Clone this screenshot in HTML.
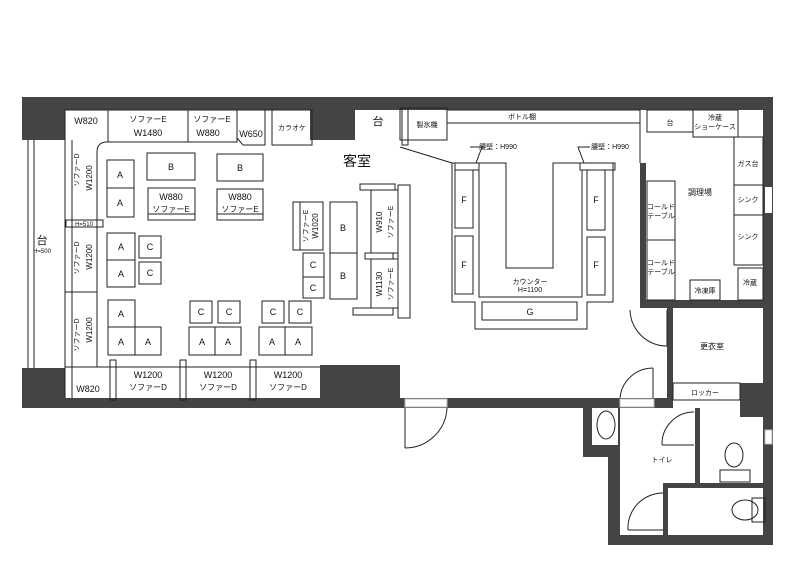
<!DOCTYPE html>
<html><head><meta charset="utf-8"><style>
html,body{margin:0;padding:0;background:#fff;}
svg{display:block;}
text{font-family:"Liberation Sans","Noto Sans CJK JP",sans-serif;fill:#111;}
</style></head><body>
<svg width="800" height="565" viewBox="0 0 800 565" xmlns="http://www.w3.org/2000/svg">
<g fill="#444" stroke="none">
<rect x="22" y="97" width="751" height="13"/>
<rect x="22" y="97" width="43" height="43"/>
<rect x="22" y="368" width="43" height="40"/>
<rect x="310" y="97" width="45" height="43"/>
<rect x="22" y="398" width="651" height="10"/>
<rect x="320" y="365" width="80" height="35"/>
<rect x="738" y="97" width="35" height="13"/>
<rect x="763" y="97" width="10" height="448"/>
<rect x="640" y="163" width="6" height="140"/>
<rect x="640" y="300" width="133" height="8"/>
<rect x="667" y="308" width="6" height="92"/>
<rect x="740" y="383" width="33" height="34"/>
<rect x="583" y="408" width="37" height="49"/>
<rect x="608" y="455" width="12" height="90"/>
<rect x="608" y="535" width="165" height="10"/>
<rect x="695" y="408" width="5" height="78"/>
<rect x="663" y="483" width="102" height="5"/>
<rect x="663" y="483" width="5" height="52"/>
</g>
<g fill="#fff" stroke="#bbb"><rect x="405" y="399" width="42" height="8"/><rect x="620" y="399" width="34" height="8"/><rect x="765" y="187" width="7" height="26" stroke="none"/><rect x="765" y="430" width="7" height="14"/></g>
<rect x="592" y="408" width="26" height="37" fill="#fff"/>
<g fill="none" stroke="#222" stroke-width="1">
<line x1="65" y1="110" x2="310" y2="110"/>
<line x1="65" y1="110" x2="65" y2="398"/>
<path d="M237 142 H107 Q97 142 97 152 V367 H320"/>
<line x1="28" y1="140" x2="28" y2="368"/><line x1="34" y1="140" x2="34" y2="368"/>
<line x1="72" y1="140" x2="72" y2="398"/>
<line x1="65" y1="292" x2="97" y2="292"/>
<rect x="108" y="110" width="80" height="32"/><rect x="188" y="110" width="49" height="32"/>
<path d="M237 110 H265 V145 H243 L237 138"/>
<rect x="272" y="110" width="40" height="35"/>
<rect x="66" y="220" width="37" height="7"/>
<line x1="65" y1="367" x2="320" y2="367"/>
<rect x="110" y="360" width="6" height="40"/><rect x="180" y="360" width="6" height="40"/><rect x="250" y="360" width="6" height="40"/>
<rect x="107" y="160" width="27" height="28"/><rect x="107" y="188" width="27" height="29"/>
<rect x="147" y="153" width="48" height="27"/><rect x="217" y="154" width="46" height="27"/>
<rect x="148" y="188" width="47" height="32"/><line x1="148" y1="214" x2="195" y2="214"/>
<rect x="217" y="189" width="46" height="31"/><line x1="217" y1="214" x2="263" y2="214"/>
<rect x="107" y="233" width="28" height="27"/><rect x="107" y="260" width="28" height="27"/>
<rect x="139" y="236" width="22" height="22"/><rect x="139" y="262" width="22" height="22"/>
<rect x="108" y="300" width="27" height="27"/><rect x="108" y="327" width="27" height="28"/><rect x="135" y="327" width="26" height="28"/>
<rect x="190" y="301" width="22" height="22"/><rect x="218" y="301" width="22" height="22"/>
<rect x="189" y="327" width="26" height="28"/><rect x="215" y="327" width="26" height="28"/>
<rect x="262" y="301" width="22" height="22"/><rect x="289" y="301" width="22" height="22"/>
<rect x="259" y="327" width="26" height="28"/><rect x="285" y="327" width="27" height="28"/>
<rect x="293" y="202" width="30" height="48"/><line x1="300" y1="202" x2="300" y2="250"/>
<rect x="303" y="253" width="21" height="24"/><rect x="303" y="277" width="21" height="21"/>
<rect x="330" y="202" width="27" height="51"/><rect x="330" y="253" width="27" height="46"/>
<rect x="360" y="184" width="35" height="6"/><rect x="371" y="190" width="27" height="63"/><rect x="365" y="253" width="28" height="6"/><rect x="371" y="259" width="27" height="49"/><rect x="353" y="308" width="40" height="7"/><rect x="398" y="185" width="12" height="133"/>
<rect x="400" y="108" width="47" height="32"/><rect x="402" y="108" width="6" height="37"/>
<rect x="447" y="110" width="193" height="13"/>
<line x1="400" y1="147" x2="452" y2="163"/>
<path d="M452 163 H506 V268 H553 V163 H613 V302 H587 V329 H475 V302 H452 Z"/>
<path d="M479 170 V297 H582 V170"/>
<rect x="455" y="163" width="24" height="7"/><rect x="580" y="163" width="35" height="7"/>
<rect x="455" y="170" width="18" height="58"/><rect x="455" y="236" width="18" height="58"/>
<rect x="587" y="170" width="18" height="60"/><rect x="587" y="237" width="18" height="58"/>
<rect x="482" y="302" width="95" height="18"/>
<polyline points="470,147 482,147 476,163"/><polyline points="590,147 578,147 584,163"/>
<line x1="640" y1="123" x2="640" y2="163"/>
<rect x="647" y="110" width="46" height="22"/><rect x="693" y="110" width="45" height="27"/>
<rect x="734" y="137" width="29" height="48"/><rect x="734" y="185" width="29" height="30"/><rect x="734" y="215" width="29" height="50"/><rect x="738" y="268" width="25" height="32"/>
<rect x="647" y="181" width="28" height="59"/><rect x="647" y="240" width="28" height="60"/>
<rect x="690" y="280" width="30" height="20"/>
<rect x="673" y="383" width="67" height="17"/>
<path d="M667 346 A37 37 0 0 1 630 310"/><line x1="667" y1="310" x2="667" y2="346"/>
<path d="M620 398 A33 33 0 0 1 653 368"/><line x1="653" y1="368" x2="653" y2="398"/>
<path d="M405 448 A42 42 0 0 0 447 408"/><line x1="405" y1="408" x2="405" y2="448"/>
<ellipse cx="606" cy="425" rx="9" ry="14"/>
<path d="M662 445 A32 32 0 0 1 694 412"/><line x1="662" y1="445" x2="694" y2="445"/>
<path d="M628 530 A35 35 0 0 1 663 493"/><line x1="628" y1="530" x2="663" y2="530"/>
<ellipse cx="734" cy="455" rx="9" ry="12"/><rect x="720" y="470" width="30" height="12"/>
<ellipse cx="745" cy="510" rx="13" ry="10"/><rect x="752" y="498" width="13" height="24"/>
</g>
<g font-size="9" text-anchor="middle">
<text x="86" y="124">W820</text><text x="148" y="122" font-size="8">ソファーE</text><text x="148" y="136">W1480</text>
<text x="212" y="122" font-size="8">ソファーE</text><text x="208" y="136">W880</text><text x="251" y="137">W650</text>
<text x="292" y="130" font-size="7">カラオケ</text>
<text x="120" y="178">A</text><text x="120" y="206">A</text><text x="171" y="170">B</text><text x="240" y="171">B</text>
<text x="171" y="200">W880</text><text x="171" y="212" font-size="8">ソファーE</text>
<text x="240" y="200">W880</text><text x="240" y="212" font-size="8">ソファーE</text>
<text x="121" y="250">A</text><text x="121" y="277">A</text><text x="150" y="250">C</text><text x="150" y="276">C</text>
<text x="121" y="317">A</text><text x="121" y="345">A</text><text x="148" y="345">A</text>
<text x="201" y="315">C</text><text x="229" y="315">C</text><text x="202" y="345">A</text><text x="228" y="345">A</text>
<text x="273" y="315">C</text><text x="300" y="315">C</text><text x="272" y="345">A</text><text x="298" y="345">A</text>
<text x="313" y="268">C</text><text x="313" y="291">C</text><text x="343" y="231">B</text><text x="343" y="279">B</text>
<text x="357" y="166" font-size="14">客室</text>
<text x="42" y="244" font-size="11">台</text><text x="42" y="253" font-size="6">H=500</text>
<text x="84" y="226" font-size="6">H=510</text>
<text x="148" y="378">W1200</text><text x="148" y="390" font-size="8">ソファーD</text>
<text x="218" y="378">W1200</text><text x="218" y="390" font-size="8">ソファーD</text>
<text x="288" y="378">W1200</text><text x="288" y="390" font-size="8">ソファーD</text>
<text x="88" y="392">W820</text>
<text x="378" y="125" font-size="11">台</text>
<text x="427" y="127" font-size="7">製氷機</text><text x="522" y="119" font-size="7">ボトル棚</text>
<text x="498" y="149" font-size="7">腰壁：H990</text><text x="610" y="149" font-size="7">腰壁：H990</text>
<text x="464" y="203">F</text><text x="464" y="268">F</text><text x="596" y="203">F</text><text x="596" y="268">F</text>
<text x="530" y="284" font-size="7">カウンター</text><text x="530" y="292" font-size="7">H=1100</text>
<text x="530" y="315">G</text>
<text x="670" y="125" font-size="7">台</text><text x="715" y="120" font-size="7">冷蔵</text><text x="715" y="129" font-size="7">ショーケース</text>
<text x="748" y="166" font-size="7">ガス台</text><text x="748" y="202" font-size="7">シンク</text><text x="748" y="239" font-size="7">シンク</text><text x="750" y="285" font-size="7">冷蔵</text>
<text x="700" y="195" font-size="8">調理場</text>
<text x="661" y="209" font-size="7">コールド</text><text x="661" y="218" font-size="7">テーブル</text>
<text x="661" y="265" font-size="7">コールド</text><text x="661" y="274" font-size="7">テーブル</text>
<text x="705" y="293" font-size="7">冷凍庫</text>
<text x="712" y="349" font-size="8">更衣室</text><text x="705" y="395" font-size="7">ロッカー</text>
<text x="662" y="462" font-size="7">トイレ</text>
</g>
<g font-size="8" text-anchor="middle">
<text transform="translate(79,170) rotate(-90)" font-size="7">ソファーD</text><text transform="translate(92,178) rotate(-90)">W1200</text>
<text transform="translate(79,258) rotate(-90)" font-size="7">ソファーD</text><text transform="translate(92,257) rotate(-90)">W1200</text>
<text transform="translate(79,335) rotate(-90)" font-size="7">ソファーD</text><text transform="translate(92,330) rotate(-90)">W1200</text>
<text transform="translate(308,226) rotate(-90)" font-size="7">ソファーE</text><text transform="translate(318,226) rotate(-90)">W1020</text>
<text transform="translate(382,222) rotate(-90)">W910</text><text transform="translate(393,222) rotate(-90)" font-size="7">ソファーE</text>
<text transform="translate(382,284) rotate(-90)">W1130</text><text transform="translate(393,284) rotate(-90)" font-size="7">ソファーE</text>
</g>
</svg>
</body></html>
